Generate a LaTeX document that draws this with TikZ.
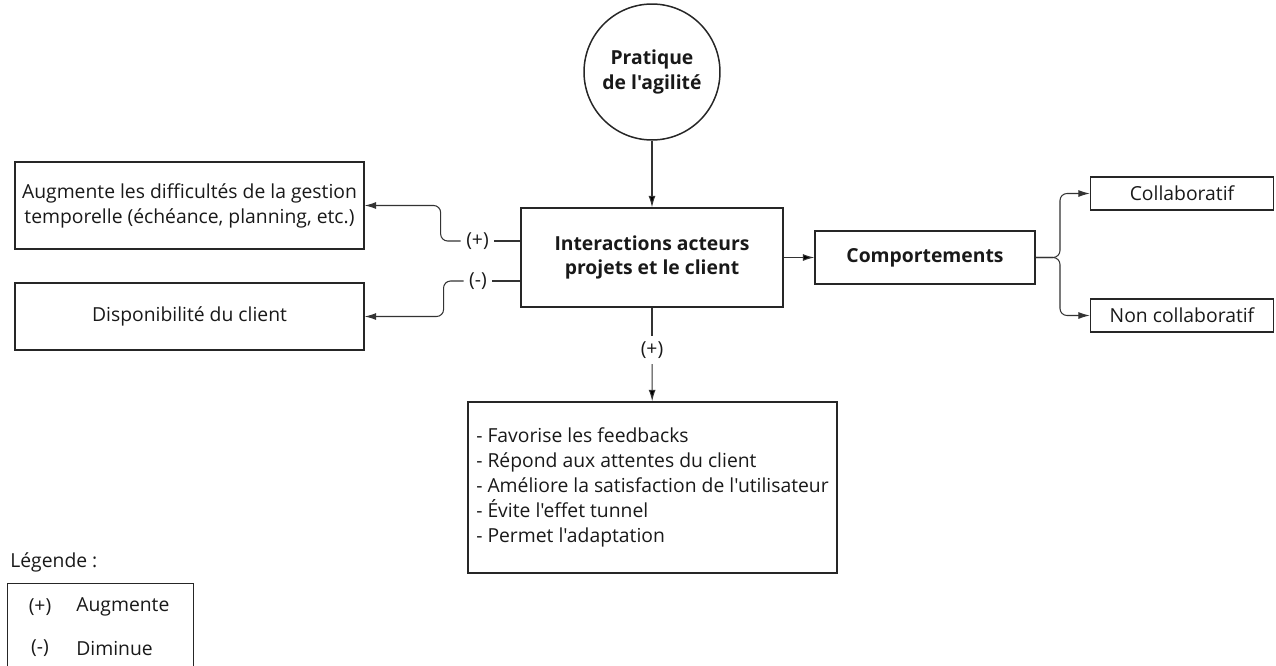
\documentclass[tikz,border=0pt]{standalone}
\usepackage{fontspec}
\setmainfont{Open Sans}[Ligatures=TeXOff]
\usetikzlibrary{arrows.meta}

\begin{document}
\begin{tikzpicture}[x=0.02cm,y=-0.02cm,
  font=\fontsize{11}{14.2}\selectfont, text=black!90,
  box/.style={draw=black!85, line width=0.85pt, align=center, inner sep=0pt},
  circ/.style={draw=black!85, line width=0.85pt, circle, minimum size=2.72cm, align=center, font=\fontsize{11}{14.2}\selectfont\bfseries},
  lien/.style={draw=black!80, line width=0.6pt},
  fleche/.style={lien, -{Latex[length=6.5pt,width=4pt]}},
  signe/.style={inner sep=3pt}]
\clip (0,0) rectangle (1276,666);

\node[circ] (pratique) at (652,72) {Pratique\\de l'agilité};
\node[box, minimum width=5.24cm, minimum height=1.98cm, font=\fontsize{11}{14.2}\selectfont\bfseries] (inter) at (652,257.5) {Interactions acteurs\\projets et le client};
\node[box, minimum width=6.98cm, minimum height=1.74cm] (augm) at (189.5,205.5) {Augmente les difficultés de la gestion\\temporelle (échéance, planning, etc.)};
\node[box, minimum width=6.98cm, minimum height=1.34cm] (dispo) at (189.5,316.5) {Disponibilité du client};
\node[box, minimum width=4.4cm, minimum height=1.06cm, font=\fontsize{11}{14.2}\selectfont\bfseries] (comport) at (925,257.5) {Comportements};
\node[box, minimum width=3.66cm, minimum height=0.66cm] (collab) at (1182,193.5) {Collaboratif};
\node[box, minimum width=3.66cm, minimum height=0.66cm] (noncollab) at (1182,315.5) {Non collaboratif};
\node[box, minimum width=7.38cm, minimum height=3.42cm, align=left] (effets) at (652.5,487.5) {- Favorise les feedbacks\\- Répond aux attentes du client\\- Améliore la satisfaction de l'utilisateur\\- Évite l'effet tunnel\\- Permet l'adaptation};

\node[signe] (plus1) at (477.5,241) {(+)};
\node[signe] (moins1) at (478,281) {(-)};
\node[signe] (plus2) at (652,350) {(+)};
\coordinate (fourche) at (1060,257.5);

% legende
\node[anchor=west, inner sep=0pt] (legtitre) at (10,562) {Légende :};
\node[box, anchor=north west, minimum width=3.72cm, minimum height=2.4cm] (legcadre) at (7,583) {};
\node (legplus) at (40,607) {(+)};
\node[anchor=west, inner sep=0pt] (legaug) at (76,607) {Augmente};
\node (legmoins) at (40,648) {(-)};
\node[anchor=west, inner sep=0pt] (legdim) at (76,648) {Diminue};

\path[fleche] (pratique) edge (inter);
\path[lien] (plus1 -| inter.west) edge (plus1)
            (moins1 -| inter.west) edge (moins1)
            (inter) edge (plus2);
\draw[fleche, rounded corners=4pt] (plus1.west) -- ++(-20,0) |- (augm.east);
\draw[fleche, rounded corners=4pt] (moins1.west) -- ++(-20,0) |- (dispo.east);
\path[fleche] (plus2) edge (effets)
              (inter) edge (comport);
\draw[fleche, rounded corners=4pt] (comport.east) -- (fourche) |- (collab.west);
\draw[fleche, rounded corners=4pt] (comport.east) -- (fourche) |- (noncollab.west);
\end{tikzpicture}
\end{document}
